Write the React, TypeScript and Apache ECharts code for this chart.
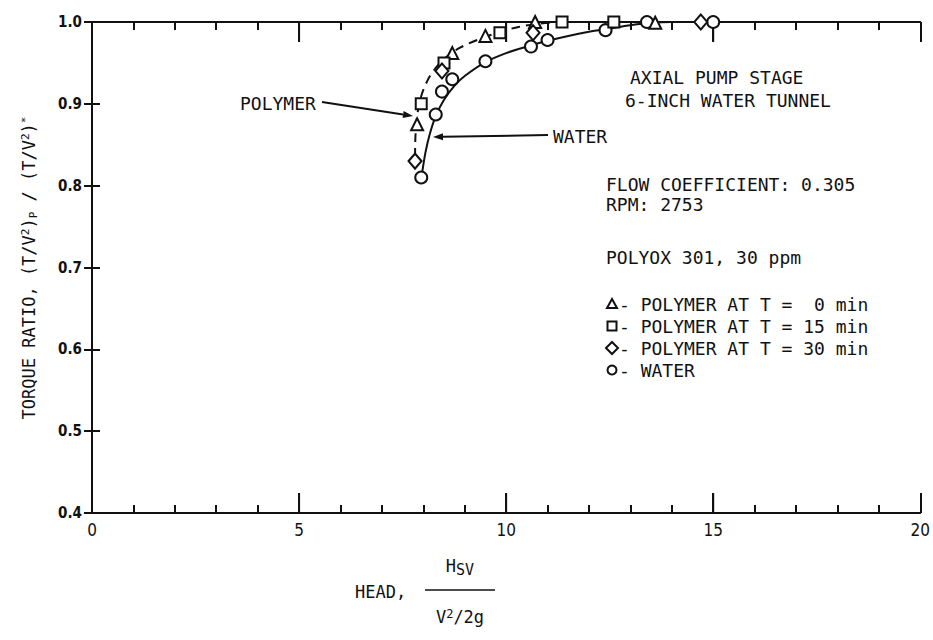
import React, { useEffect, useRef } from "react";
import * as echarts from "echarts";

// ---- data ----
const xTickLabels = ["0", "5", "10", "15", "20"];
const yTickLabels = ["0.4", "0.5", "0.6", "0.7", "0.8", "0.9", "1.0"];
const xMajorTicks = [5, 10, 15];

// polymer at T = 0 min (triangles)
const polymerT0: [number, number][] = [
  [7.85, 0.875], [8.7, 0.962], [9.5, 0.983], [10.7, 1.0], [13.6, 0.999],
];
// polymer at T = 15 min (squares)
const polymerT15: [number, number][] = [
  [7.95, 0.9], [8.5, 0.95], [9.85, 0.987], [11.35, 1.0], [12.6, 1.0],
];
// polymer at T = 30 min (diamonds)
const polymerT30: [number, number][] = [
  [7.8, 0.83], [8.45, 0.94], [10.65, 0.987], [14.7, 1.0],
];
// water (circles)
const water: [number, number][] = [
  [7.95, 0.81], [8.3, 0.887], [8.45, 0.915], [8.7, 0.93], [9.5, 0.952],
  [10.6, 0.97], [11.0, 0.978], [12.4, 0.99], [13.4, 1.0], [15.0, 1.0],
];
// faired curves
const waterCurve: [number, number][] = [
  [7.97, 0.815], [8.05, 0.84], [8.15, 0.862], [8.3, 0.885], [8.5, 0.905],
  [8.75, 0.922], [9.0, 0.934], [9.5, 0.951], [10.0, 0.962], [10.5, 0.97],
  [11.0, 0.977], [11.5, 0.983], [12.0, 0.988], [12.5, 0.992], [13.0, 0.996],
  [13.5, 0.999], [14.0, 1.0], [20, 1.0],
];
const polymerCurve: [number, number][] = [
  [7.8, 0.835], [7.81, 0.86], [7.84, 0.88], [7.9, 0.9], [8.0, 0.917],
  [8.15, 0.933], [8.35, 0.947], [8.6, 0.959], [8.9, 0.969], [9.3, 0.978],
  [9.8, 0.987], [10.3, 0.994], [10.8, 0.998], [11.4, 1.0], [13.6, 1.0],
];

const legendRows = [
  { symbol: "triangle", text: "- POLYMER AT T =  0 min" },
  { symbol: "square", text: "- POLYMER AT T = 15 min" },
  { symbol: "diamond", text: "- POLYMER AT T = 30 min" },
  { symbol: "circle", text: "- WATER" },
];

const FONT = '"DejaVu Sans Condensed", "DejaVu Sans", sans-serif';
const MONO = '"DejaVu Sans Mono", "Liberation Mono", monospace';
const INK = "#111";

const GRID = { left: 92, top: 22, right: 11, bottom: 127 };

function arrow(x1: number, y1: number, x2: number, y2: number) {
  const dx = x2 - x1, dy = y2 - y1;
  const len = Math.sqrt(dx * dx + dy * dy);
  const ux = dx / len, uy = dy / len;
  const hl = 10, hw = 3.5;
  const bx = x2 - ux * hl, by = y2 - uy * hl;
  return [
    { type: "line", shape: { x1, y1, x2: bx, y2: by }, style: { stroke: INK, lineWidth: 2 } },
    {
      type: "polygon",
      shape: { points: [[x2, y2], [bx - uy * hw, by + ux * hw], [bx + uy * hw, by - ux * hw]] },
      style: { fill: INK },
    },
  ];
}

function legendSymbol(kind: string, cx: number, cy: number) {
  const st = { fill: "#fff", stroke: INK, lineWidth: 2 };
  if (kind === "triangle")
    return { type: "polygon", shape: { points: [[cx, cy - 5], [cx + 5, cy + 4], [cx - 5, cy + 4]] }, style: st };
  if (kind === "square")
    return { type: "rect", shape: { x: cx - 4.5, y: cy - 4.5, width: 9, height: 9 }, style: st };
  if (kind === "diamond")
    return { type: "polygon", shape: { points: [[cx, cy - 6], [cx + 6, cy], [cx, cy + 6], [cx - 6, cy]] }, style: st };
  return { type: "circle", shape: { cx, cy, r: 4.5 }, style: st };
}

function text(t: string, x: number, y: number, size = 18, extra: any = {}) {
  return {
    type: "text",
    x,
    y,
    style: { text: t, font: `${size}px ${MONO}`, fill: INK, verticalAlign: "middle", ...extra },
  };
}

export default function App() {
  const ref = useRef<HTMLDivElement>(null);

  useEffect(() => {
    document.body.style.margin = "0";
    const chart = echarts.init(ref.current!, null, { renderer: "svg" });

    const hollow = { color: "#fff", borderColor: INK, borderWidth: 2, opacity: 1 };
    const axisCommon = {
      type: "value",
      axisLine: { show: true, lineStyle: { color: INK, width: 2 } },
      splitLine: { show: false },
    };
    const majorX = { show: true, inside: true, length: 20, lineStyle: { color: INK, width: 2 } };
    const minorX = { show: true, splitNumber: 5, length: 8, lineStyle: { color: INK, width: 2 } };
    const tickY = { show: true, inside: true, length: 8, lineStyle: { color: INK, width: 2 } };

    const graphic: any[] = [
      text("AXIAL PUMP STAGE", 630, 77),
      text("6-INCH WATER TUNNEL", 625, 100),
      text("FLOW COEFFICIENT: 0.305", 606, 184),
      text("RPM: 2753", 606, 204),
      text("POLYOX 301, 30 ppm", 606, 257),
      text("POLYMER", 240, 103),
      text("WATER", 553, 136),
      ...arrow(322, 102, 413, 116),
      ...arrow(548, 135, 433, 137),
      // y axis title
      {
        type: "text",
        x: 29,
        y: 268,
        rotation: Math.PI / 2,
        style: {
          text: "TORQUE RATIO, (T/V{sup|2}){sub|P} / (T/V{sup|2}){sup|*}",
          font: `17px ${MONO}`,
          fill: INK,
          align: "center",
          verticalAlign: "middle",
          rich: {
            sup: { fontSize: 11, fontFamily: MONO, verticalAlign: "top", fill: INK, padding: [0, 0, 8, 0] },
            sub: { fontSize: 11, fontFamily: MONO, verticalAlign: "bottom", fill: INK, padding: [8, 0, 0, 0] },
          },
        },
      },
      // x axis title
      text("HEAD,", 355, 592, 17),
      {
        type: "text",
        x: 460,
        y: 566,
        style: {
          text: "H{sub|SV}",
          font: `17px ${MONO}`,
          fill: INK,
          align: "center",
          verticalAlign: "middle",
          rich: { sub: { fontSize: 15, fontFamily: MONO, fill: INK, verticalAlign: "bottom", padding: [7, 0, 0, 0] } },
        },
      },
      { type: "line", shape: { x1: 425, y1: 590, x2: 495, y2: 590 }, style: { stroke: INK, lineWidth: 1.5 } },
      {
        type: "text",
        x: 460,
        y: 617,
        style: {
          text: "V{sup|2}/2g",
          font: `17px ${MONO}`,
          fill: INK,
          align: "center",
          verticalAlign: "middle",
          rich: { sup: { fontSize: 12, fontFamily: MONO, fill: INK, verticalAlign: "top", padding: [0, 0, 7, 0] } },
        },
      },
    ];
    legendRows.forEach((r, i) => {
      const y = 304 + i * 22;
      graphic.push(legendSymbol(r.symbol, 612, y));
      graphic.push(text(r.text, 619, y));
    });

    chart.setOption({
      animation: false,
      backgroundColor: "#fff",
      grid: { ...GRID, containLabel: false },
      xAxis: [
        {
          ...axisCommon,
          position: "bottom",
          min: 0,
          max: 20,
          interval: 5,
          axisTick: majorX,
          minorTick: minorX,
          axisLabel: {
            color: INK,
            fontFamily: FONT,
            fontSize: 17,
            margin: 8,
            formatter: (v: number) => xTickLabels[Math.round(v / 5)] ?? "",
          },
        },
        {
          ...axisCommon,
          position: "top",
          min: 0,
          max: 20,
          interval: 5,
          axisTick: majorX,
          minorTick: minorX,
          axisLabel: { show: false },
        },
      ],
      yAxis: [
        {
          ...axisCommon,
          position: "left",
          min: 0.4,
          max: 1.0,
          interval: 0.1,
          axisTick: tickY,
          axisLabel: {
            color: INK,
            fontFamily: FONT,
            fontSize: 15,
            fontWeight: "bold",
            margin: 10,
            formatter: (v: number) => yTickLabels[Math.round((v - 0.4) * 10)] ?? "",
          },
        },
        {
          ...axisCommon,
          position: "right",
          min: 0.4,
          max: 1.0,
          interval: 0.1,
          axisTick: tickY,
          axisLabel: { show: false },
        },
      ],
      series: [
        {
          type: "line",
          data: waterCurve,
          smooth: 0.3,
          showSymbol: false,
          lineStyle: { color: INK, width: 2 },
          z: 2,
        },
        {
          type: "line",
          data: polymerCurve,
          smooth: 0.3,
          showSymbol: false,
          lineStyle: { color: INK, width: 2, type: [9, 6] },
          z: 2,
        },
        { type: "scatter", data: water, symbol: "circle", symbolSize: 12, itemStyle: hollow, z: 5 },
        { type: "scatter", data: polymerT0, symbol: "triangle", symbolSize: 12, itemStyle: hollow, z: 5 },
        { type: "scatter", data: polymerT15, symbol: "rect", symbolSize: 11, itemStyle: hollow, z: 5 },
        { type: "scatter", data: polymerT30, symbol: "diamond", symbolSize: [13, 15], itemStyle: hollow, z: 5 },
      ],
      graphic,
    });

    // explicit long major ticks on bottom and top frame, positioned through the axis scale
    const tickLines: any[] = [];
    xMajorTicks.forEach((v) => {
      const [xb, yb] = chart.convertToPixel({ gridIndex: 0 }, [v, 0.4]) as number[];
      const [, yt] = chart.convertToPixel({ gridIndex: 0 }, [v, 1.0]) as number[];
      tickLines.push({ type: "line", shape: { x1: xb, y1: yb, x2: xb, y2: yb - 20 }, style: { stroke: INK, lineWidth: 2 } });
      tickLines.push({ type: "line", shape: { x1: xb, y1: yt, x2: xb, y2: yt + 20 }, style: { stroke: INK, lineWidth: 2 } });
    });
    chart.setOption({ graphic: [...graphic, ...tickLines] });

    return () => chart.dispose();
  }, []);

  return <div ref={ref} style={{ width: 933, height: 640, position: "fixed", left: 0, top: 0 }} />;
}
